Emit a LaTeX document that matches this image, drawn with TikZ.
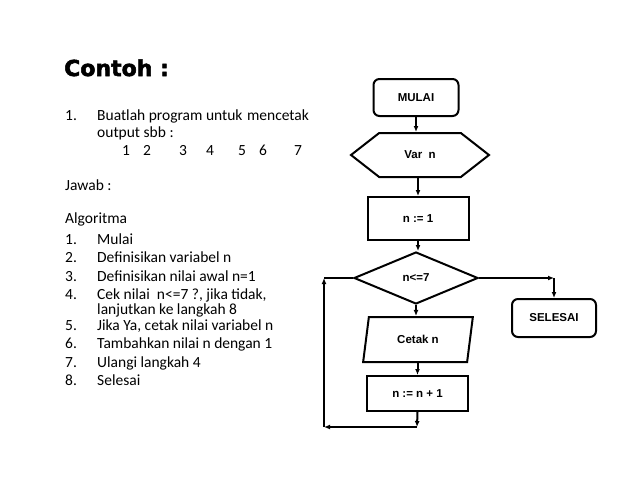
\documentclass[tikz,border=0pt]{standalone}
\usepackage{fontspec}
\setmainfont{Carlito}
\newfontfamily\flowfont{Liberation Sans}[BoldFont={Liberation Sans Bold}]
\newfontfamily\titlefont{DejaVu Sans}[BoldFont={DejaVu Sans Bold},
	BoldFeatures={FakeBold=2.5}]
\usetikzlibrary{arrows.meta}
\usetikzlibrary{positioning}
\usetikzlibrary{shapes.geometric}
\usetikzlibrary{shapes.symbols}
\tikzset{%
	>={Latex[width=5pt,length=6pt]},
	% Specifications for style of nodes:
	base/.style = {rectangle, draw=black, line width=2pt,
				   inner sep=0pt, text centered,
				   font=\flowfont\bfseries\fontsize{11.5}{13}\selectfont},
	terminal/.style = {base, rounded corners=6pt},
	declare/.style = {base, signal, signal to=west and east,
					  signal pointer angle=76},
	decision/.style = {base, diamond},
	io/.style = {base, trapezium, trapezium stretches=true,
				 trapezium left angle=74, trapezium right angle=106},
	txt/.style = {anchor=base west, inner sep=0pt,
				  font=\fontsize{15.5}{18}\selectfont},
	flow/.style = {line width=2pt},
}
\begin{document}
\begin{tikzpicture}[x=1pt, y=-1pt]
	\useasboundingbox (0,0) rectangle (638,493);

	% Text on the left side
	\node (title) [anchor=base west, inner sep=0pt,
		font=\titlefont\bfseries\fontsize{22}{26}\selectfont] at (64,76) {Contoh :};

	\node (qNum)  [txt] at (65,120) {1.};
	\node (qLine) [txt] at (97,120) {Buatlah program untuk\hspace{1pt} mencetak};
	\node (qOut)  [txt] at (97,137) {output sbb :};
	\foreach \x/\d in {122/1, 143/2, 179/3, 206/4, 238/5, 259/6, 294/7}
		\node (digit\d) [txt] at (\x,155) {\d};

	\node (answer) [txt] at (65,190) {Jawab :};
	\node (algo)   [txt] at (65,223) {Algoritma};

	\foreach \y/\i/\s in {244/1/Mulai,
						  262/2/Definisikan variabel n,
						  281/3/Definisikan nilai awal n=1,
						  299/4/{Cek nilai\ \ n<=7 ?, jika tidak,},
						  330/5/{Jika Ya, cetak nilai variabel n},
						  348/6/Tambahkan nilai n dengan 1,
						  367/7/Ulangi langkah 4,
						  385/8/Selesai}
	{
		\node (stepNum\i) [txt] at (65,\y) {\i.};
		\node (stepTxt\i) [txt] at (97,\y) {\s};
	}
	\node (stepTxt4b) [txt] at (97,314) {lanjutkan ke langkah 8};

	% Flowchart nodes
	\node (start) [terminal, minimum width=85, minimum height=37] at (416,97.5) {MULAI};
	\node (varN)  [declare, minimum width=138, minimum height=44] at (420,155) {Var\ \ n};
	\node (init)  [base, minimum width=101, minimum height=43] at (418,218.5) {n := 1};
	\node (cond)  [decision, minimum width=124, minimum height=52] at (416,278) {n<=7};
	\node (print) [io, minimum width=110, minimum height=45] at (418,339.5) {Cetak n};
	\node (inc)   [base, minimum width=101, minimum height=35] at (417.5,393.5) {n := n + 1};
	\node (stop)  [terminal, minimum width=84, minimum height=38] at (554,318) {SELESAI};

	% Corner points of the loop and of the exit
	\coordinate (loopA) at (417,427);
	\coordinate (loopB) at (324,427);
	\coordinate (loopC) at (324,278);
	\coordinate (exitA) at (554,278);

	% Connectors
	\draw[->, flow] (start.south) -- (start.south |- varN.north);
	\draw[->, flow] (varN.south -| init.north) -- (init.north);
	\draw[->, flow] (init.south) -- (init.south |- cond.north);
	\draw[->, flow] (cond.south) -- (cond.south |- print.north);
	\draw[->, flow] (print.south -| inc.north) -- (inc.north);
	\draw[->, flow] (inc.south) -- (loopA);
	\draw[->, flow] (loopA) -- (loopB);
	\draw[->, flow] (loopB) -- (loopC);
	\draw[flow]     (loopC) -- (cond.west);
	\draw[->, flow] (cond.east) -- (exitA);
	\draw[->, flow] (exitA) -- (stop.north);

\end{tikzpicture}
\end{document}
